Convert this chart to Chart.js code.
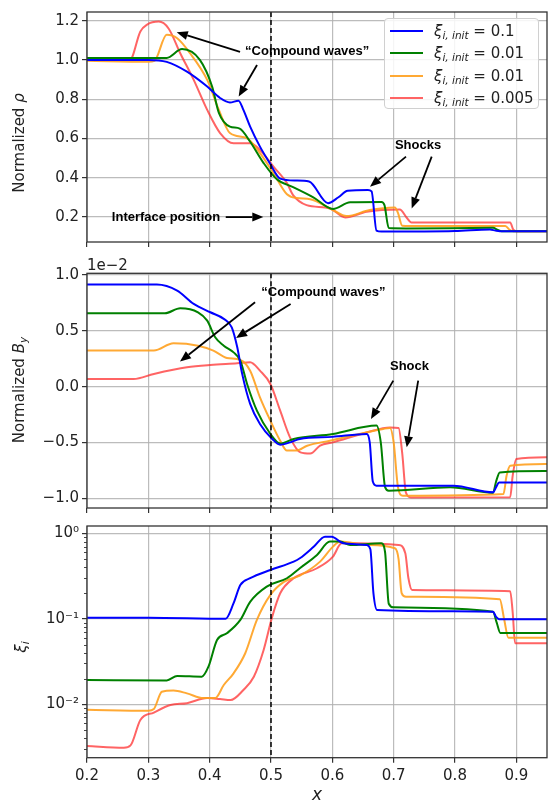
<!DOCTYPE html>
<html>
<head>
<meta charset="utf-8">
<script src="https://cdn.jsdelivr.net/npm/chart.js@4.4.1/dist/chart.umd.min.js"></script>
<style>
  body { margin: 0; background: #fff; width: 548px; height: 802px; overflow: hidden; position: relative; font-family: "DejaVu Sans", sans-serif; color: #222; }
  canvas { position: absolute; left: 0; top: 0; }
  .ytitle { position: absolute; transform: translate(-50%, -50%) rotate(-90deg); white-space: nowrap; font-size: 15px; }
  .ytitle sub, .legend sub { font-size: 10.5px; vertical-align: -3px; font-style: italic; }
  .offset { position: absolute; left: 87px; top: 256px; font-size: 15px; }
  .legend { position: absolute; left: 384px; top: 18px; width: 155px; height: 91px; box-sizing: border-box; border: 1px solid #d0d0d0; border-radius: 4px; background: rgba(255,255,255,0.85); z-index: 5; }
  .legend .row { position: absolute; left: 0; height: 22px; line-height: 22px; width: 100%; font-size: 15px; white-space: nowrap; }
  .legend .sw { position: absolute; left: 5px; top: 10px; width: 33px; height: 2px; }
  .legend .lab { position: absolute; left: 49px; top: 0; }
</style>
</head>
<body>
<canvas id="rhoChart" width="548" height="802"></canvas>
<canvas id="byChart" width="548" height="802"></canvas>
<canvas id="xiChart" width="548" height="802"></canvas>

<div class="ytitle" style="left:19px; top:143px;">Normalized <i>ρ</i></div>
<div class="ytitle" style="left:19px; top:390px;">Normalized <i>B</i><sub>y</sub></div>
<div class="ytitle" style="left:21px; top:647px;"><i>ξ</i><sub>i</sub></div>
<div class="offset">1e−2</div>
<div class="legend" id="legend"></div>

<script>
// ---- datos ----
const X_TICKS = [0.2, 0.3, 0.4, 0.5, 0.6, 0.7, 0.8, 0.9];
const RHO_TICKS = [0.2, 0.4, 0.6, 0.8, 1.0, 1.2];
const BY_TICKS = [-1.0, -0.5, 0.0, 0.5, 1.0];
const XI_TICKS = [0.01, 0.1, 1];

const SERIES_COLORS = ['#0000ff', '#008000', 'rgba(255,160,30,0.9)', 'rgba(255,40,40,0.72)'];
const XI_INIT = ['0.1', '0.01', '0.01', '0.005'];

// densidad normalizada
const rhoBlueX = [0.2, 0.3, 0.33, 0.363, 0.396, 0.417, 0.433, 0.447, 0.455, 0.466, 0.482, 0.498, 0.515, 0.54, 0.562, 0.593, 0.61, 0.625, 0.658, 0.664, 0.672, 0.68, 0.8, 0.857, 0.866, 0.873, 0.95];
const rhoBlueY = [1.0, 1.0, 0.99, 0.94, 0.864, 0.806, 0.783, 0.792, 0.745, 0.66, 0.558, 0.474, 0.395, 0.385, 0.38, 0.27, 0.3, 0.333, 0.337, 0.33, 0.13, 0.125, 0.128, 0.136, 0.13, 0.127, 0.127];
const rhoGreenX = [0.2, 0.33, 0.355, 0.384, 0.404, 0.415, 0.433, 0.449, 0.466, 0.488, 0.51, 0.536, 0.569, 0.601, 0.629, 0.68, 0.685, 0.692, 0.72, 0.862, 0.87, 0.876, 0.95];
const rhoGreenY = [1.01, 1.01, 1.055, 1.0, 0.864, 0.73, 0.66, 0.65, 0.583, 0.474, 0.39, 0.352, 0.30, 0.24, 0.274, 0.276, 0.26, 0.143, 0.141, 0.144, 0.133, 0.127, 0.127];
const rhoOrangeX = [0.2, 0.3, 0.31, 0.33, 0.347, 0.368, 0.396, 0.415, 0.433, 0.461, 0.482, 0.504, 0.526, 0.542, 0.564, 0.601, 0.623, 0.661, 0.702, 0.707, 0.714, 0.74, 0.882, 0.89, 0.895, 0.95];
const rhoOrangeY = [0.995, 0.99, 0.995, 1.128, 1.11, 1.034, 0.898, 0.745, 0.627, 0.60, 0.525, 0.423, 0.315, 0.296, 0.29, 0.235, 0.204, 0.235, 0.248, 0.22, 0.155, 0.153, 0.153, 0.132, 0.127, 0.127];
const rhoRedX = [0.2, 0.27, 0.287, 0.298, 0.317, 0.333, 0.352, 0.374, 0.396, 0.417, 0.439, 0.466, 0.482, 0.504, 0.526, 0.536, 0.558, 0.596, 0.621, 0.656, 0.71, 0.721, 0.729, 0.75, 0.89, 0.895, 0.9, 0.95];
const rhoRedY = [1.0, 1.0, 1.145, 1.18, 1.195, 1.16, 1.034, 0.898, 0.745, 0.627, 0.575, 0.575, 0.541, 0.456, 0.372, 0.311, 0.26, 0.243, 0.197, 0.226, 0.238, 0.197, 0.172, 0.172, 0.172, 0.135, 0.127, 0.127];

// B_y normalizado (x 1e-2)
const byBlueX = [0.2, 0.314, 0.347, 0.374, 0.401, 0.423, 0.436, 0.445, 0.453, 0.466, 0.482, 0.502, 0.515, 0.531, 0.547, 0.6, 0.656, 0.661, 0.666, 0.672, 0.797, 0.862, 0.867, 0.872, 0.95];
const byBlueY = [0.914, 0.914, 0.86, 0.741, 0.666, 0.607, 0.531, 0.352, 0.114, -0.155, -0.334, -0.469, -0.52, -0.499, -0.469, -0.45, -0.424, -0.5, -0.85, -0.887, -0.887, -0.947, -0.9, -0.858, -0.858];
const byGreenX = [0.2, 0.327, 0.352, 0.381, 0.396, 0.409, 0.423, 0.439, 0.45, 0.461, 0.477, 0.499, 0.515, 0.537, 0.601, 0.672, 0.679, 0.686, 0.692, 0.792, 0.862, 0.867, 0.873, 0.95];
const byGreenY = [0.657, 0.657, 0.702, 0.666, 0.591, 0.442, 0.367, 0.307, 0.233, 0.024, -0.215, -0.424, -0.51, -0.469, -0.424, -0.349, -0.5, -0.9, -0.932, -0.902, -0.95, -0.85, -0.768, -0.756];
const byOrangeX = [0.2, 0.309, 0.341, 0.381, 0.406, 0.428, 0.45, 0.466, 0.482, 0.499, 0.515, 0.526, 0.542, 0.559, 0.596, 0.683, 0.694, 0.7, 0.707, 0.715, 0.879, 0.884, 0.89, 0.95];
const byOrangeY = [0.323, 0.323, 0.388, 0.367, 0.323, 0.257, 0.239, 0.143, -0.096, -0.305, -0.484, -0.573, -0.573, -0.529, -0.484, -0.379, -0.37, -0.5, -0.9, -0.977, -0.962, -0.8, -0.708, -0.693];
const byRedX = [0.2, 0.276, 0.309, 0.363, 0.401, 0.445, 0.466, 0.482, 0.499, 0.515, 0.531, 0.548, 0.564, 0.58, 0.601, 0.656, 0.694, 0.708, 0.714, 0.72, 0.728, 0.89, 0.894, 0.9, 0.95];
const byRedY = [0.069, 0.069, 0.114, 0.173, 0.194, 0.209, 0.218, 0.143, 0.024, -0.215, -0.454, -0.589, -0.6, -0.529, -0.499, -0.41, -0.365, -0.37, -0.6, -0.95, -0.992, -0.99, -0.8, -0.648, -0.633];

// fraccion de ionizacion
const xiBlueX = [0.2, 0.3, 0.426, 0.439, 0.45, 0.466, 0.499, 0.537, 0.547, 0.57, 0.588, 0.599, 0.618, 0.656, 0.662, 0.667, 0.673, 0.862, 0.867, 0.872, 0.95];
const xiBlueY = [0.103, 0.103, 0.10, 0.152, 0.248, 0.298, 0.372, 0.466, 0.51, 0.7, 0.912, 0.912, 0.764, 0.73, 0.65, 0.2, 0.127, 0.121, 0.105, 0.099, 0.099];
const xiGreenX = [0.2, 0.33, 0.347, 0.387, 0.398, 0.412, 0.428, 0.45, 0.466, 0.493, 0.526, 0.547, 0.575, 0.596, 0.613, 0.629, 0.68, 0.686, 0.692, 0.7, 0.862, 0.868, 0.874, 0.95];
const xiGreenY = [0.0192, 0.019, 0.0214, 0.021, 0.0275, 0.0565, 0.0676, 0.097, 0.158, 0.238, 0.298, 0.39, 0.557, 0.80, 0.80, 0.73, 0.764, 0.6, 0.15, 0.136, 0.121, 0.09, 0.068, 0.068];
const xiOrangeX = [0.2, 0.3, 0.309, 0.322, 0.341, 0.363, 0.39, 0.409, 0.423, 0.439, 0.458, 0.477, 0.499, 0.521, 0.547, 0.58, 0.601, 0.613, 0.656, 0.702, 0.708, 0.713, 0.72, 0.873, 0.88, 0.887, 0.95];
const xiOrangeY = [0.0086, 0.0084, 0.0088, 0.014, 0.0145, 0.0134, 0.0118, 0.0118, 0.0168, 0.023, 0.0395, 0.097, 0.19, 0.27, 0.32, 0.466, 0.698, 0.8, 0.73, 0.668, 0.5, 0.2, 0.181, 0.169, 0.1, 0.06, 0.06];
const xiRedX = [0.2, 0.26, 0.271, 0.287, 0.309, 0.336, 0.363, 0.396, 0.417, 0.434, 0.455, 0.472, 0.488, 0.502, 0.515, 0.537, 0.575, 0.601, 0.615, 0.64, 0.708, 0.719, 0.724, 0.73, 0.89, 0.894, 0.898, 0.95];
const xiRedY = [0.00325, 0.0031, 0.0033, 0.00655, 0.008, 0.0098, 0.0103, 0.0118, 0.0115, 0.0112, 0.0147, 0.021, 0.0432, 0.106, 0.199, 0.298, 0.39, 0.533, 0.764, 0.764, 0.73, 0.583, 0.3, 0.217, 0.21, 0.12, 0.0517, 0.0517];

const INTERFACE_X = 0.5;

// ---- estilo ----
const GRID = 'rgba(176,176,176,0.85)';
const SPINE = '#333';
const TICK_FONT = { family: '"DejaVu Sans"', size: 15 };
const TICK_COLOR = '#222';
const SUP = { '0': '⁰', '1': '¹', '2': '²', '-': '⁻' };

// anotaciones (coordenadas de datos)
const rhoNotes = [
  { text: '“Compound waves”', x: 0.559, y: 1.041 },
  { text: 'Interface position', x: 0.3288, y: 0.199 },
  { text: 'Shocks', x: 0.7397, y: 0.563 }
];
const rhoArrows = [
  [0.4495, 1.041, 0.3463, 1.141],
  [0.4772, 0.974, 0.4473, 0.813],
  [0.4262, 0.199, 0.4875, 0.199],
  [0.7201, 0.507, 0.6614, 0.354],
  [0.762, 0.507, 0.7294, 0.243]
];
const byNotes = [
  { text: '“Compound waves”', x: 0.5855, y: 0.845 },
  { text: 'Shock', x: 0.7258, y: 0.182 }
];
const byArrows = [
  [0.474, 0.755, 0.3516, 0.224],
  [0.532, 0.741, 0.443, 0.436],
  [0.6994, 0.054, 0.663, -0.289],
  [0.740, 0.054, 0.7213, -0.544]
];

const overlayPlugin = {
  id: 'overlay',
  afterDatasetsDraw(chart, args, opts) {
    const { ctx, chartArea: a, scales: { x, y } } = chart;
    ctx.save();
    // linea de la interfaz
    const xi = x.getPixelForValue(INTERFACE_X);
    ctx.strokeStyle = '#000';
    ctx.lineWidth = 1.5;
    ctx.setLineDash([5, 3]);
    ctx.beginPath();
    ctx.moveTo(xi, a.top);
    ctx.lineTo(xi, a.bottom);
    ctx.stroke();
    ctx.setLineDash([]);

    // marco
    ctx.strokeStyle = SPINE;
    ctx.lineWidth = 1.3;
    ctx.strokeRect(a.left, a.top, a.right - a.left, a.bottom - a.top);

    // ticks menores del eje log
    if (opts.minorTicks) {
      ctx.lineWidth = 0.9;
      for (let d = -3; d <= 0; d++) {
        for (let k = 2; k <= 9; k++) {
          const v = k * Math.pow(10, d);
          if (v < y.min || v > y.max) continue;
          const py = Math.round(y.getPixelForValue(v)) + 0.5;
          ctx.beginPath();
          ctx.moveTo(a.left - 3, py);
          ctx.lineTo(a.left, py);
          ctx.stroke();
        }
      }
    }

    // flechas
    ctx.strokeStyle = '#000';
    ctx.fillStyle = '#000';
    (opts.arrows || []).forEach(([x0, y0, x1, y1]) => {
      const px0 = x.getPixelForValue(x0), py0 = y.getPixelForValue(y0);
      const px1 = x.getPixelForValue(x1), py1 = y.getPixelForValue(y1);
      const ang = Math.atan2(py1 - py0, px1 - px0);
      const head = 11, half = 4.5;
      const bx = px1 - head * Math.cos(ang), by = py1 - head * Math.sin(ang);
      ctx.lineWidth = 1.8;
      ctx.beginPath();
      ctx.moveTo(px0, py0);
      ctx.lineTo(bx, by);
      ctx.stroke();
      ctx.beginPath();
      ctx.moveTo(px1, py1);
      ctx.lineTo(bx + half * Math.sin(ang), by - half * Math.cos(ang));
      ctx.lineTo(bx - half * Math.sin(ang), by + half * Math.cos(ang));
      ctx.closePath();
      ctx.fill();
    });

    // textos
    ctx.font = 'bold 13px "Liberation Sans", Arial, sans-serif';
    ctx.textAlign = 'center';
    ctx.textBaseline = 'middle';
    (opts.notes || []).forEach(n => {
      ctx.fillText(n.text, x.getPixelForValue(n.x), y.getPixelForValue(n.y));
    });
    ctx.restore();
  }
};

function toSeries(xs, ys, i) {
  return {
    label: 'ξ i,init = ' + XI_INIT[i],
    data: xs.map((v, k) => ({ x: v, y: ys[k] })),
    borderColor: SERIES_COLORS[i],
    borderWidth: 2,
    pointRadius: 0,
    fill: false,
    cubicInterpolationMode: 'monotone'
  };
}

function makePanel(id, cfg) {
  return new Chart(document.getElementById(id), {
    type: 'line',
    data: { datasets: cfg.series },
    plugins: [overlayPlugin],
    options: {
      responsive: false,
      animation: false,
      events: [],
      layout: { padding: { top: cfg.top, bottom: cfg.bottom, left: 0, right: 1 } },
      plugins: {
        legend: { display: false },
        tooltip: { enabled: false },
        overlay: { notes: cfg.notes, arrows: cfg.arrows, minorTicks: cfg.yType === 'logarithmic' }
      },
      scales: {
        x: {
          type: 'linear',
          min: 0.2,
          max: 0.95,
          afterBuildTicks: s => { s.ticks = X_TICKS.map(v => ({ value: v })); },
          afterFit: s => { s.height = cfg.xAxisH; s.paddingLeft = 0; s.paddingRight = 0; },
          ticks: { display: cfg.xLabels, font: TICK_FONT, color: TICK_COLOR, padding: 4, maxRotation: 0,
                   callback: v => v.toFixed(1) },
          grid: { color: GRID, lineWidth: 1.2, tickLength: 5, tickColor: SPINE, tickWidth: 1.2 },
          border: { display: false },
          title: cfg.xLabels
            ? { display: true, text: 'x', font: { family: '"DejaVu Sans"', size: 17, style: 'italic', lineHeight: 0.8 }, color: '#222', padding: { top: 0, bottom: 0 } }
            : { display: false }
        },
        y: {
          type: cfg.yType,
          min: cfg.yMin,
          max: cfg.yMax,
          afterBuildTicks: s => { s.ticks = cfg.yTicks.map(v => ({ value: v })); },
          afterFit: s => { s.width = 87; s.paddingTop = 0; s.paddingBottom = 0; },
          ticks: { font: TICK_FONT, color: TICK_COLOR, padding: 3, callback: cfg.yFormat },
          grid: { color: GRID, lineWidth: 1.2, tickLength: 5, tickColor: SPINE, tickWidth: 1.2 },
          border: { display: false }
        }
      }
    }
  });
}

makePanel('rhoChart', {
  series: [toSeries(rhoBlueX, rhoBlueY, 0), toSeries(rhoGreenX, rhoGreenY, 1), toSeries(rhoOrangeX, rhoOrangeY, 2), toSeries(rhoRedX, rhoRedY, 3)],
  top: 12, bottom: 550, xAxisH: 10, xLabels: false,
  yType: 'linear', yMin: 0.072, yMax: 1.244, yTicks: RHO_TICKS,
  yFormat: v => v.toFixed(1),
  notes: rhoNotes, arrows: rhoArrows
});

makePanel('byChart', {
  series: [toSeries(byBlueX, byBlueY, 0), toSeries(byGreenX, byGreenY, 1), toSeries(byOrangeX, byOrangeY, 2), toSeries(byRedX, byRedY, 3)],
  top: 273.3, bottom: 284, xAxisH: 10, xLabels: false,
  yType: 'linear', yMin: -1.087, yMax: 1.015, yTicks: BY_TICKS,
  yFormat: v => v.toFixed(1).replace('-', '−'),
  notes: byNotes, arrows: byArrows
});

makePanel('xiChart', {
  series: [toSeries(xiBlueX, xiBlueY, 0), toSeries(xiGreenX, xiGreenY, 1), toSeries(xiOrangeX, xiOrangeY, 2), toSeries(xiRedX, xiRedY, 3)],
  top: 526, bottom: 0, xAxisH: 44.3, xLabels: true,
  yType: 'logarithmic', yMin: 0.00237, yMax: 1.217, yTicks: XI_TICKS,
  yFormat: v => '10' + String(Math.round(Math.log10(v))).split('').map(c => SUP[c]).join(''),
  notes: [], arrows: []
});

// leyenda
const legend = document.getElementById('legend');
XI_INIT.forEach((val, i) => {
  const row = document.createElement('div');
  row.className = 'row';
  row.style.top = (1 + i * 22.3) + 'px';
  row.innerHTML = '<span class="sw" style="background:' + SERIES_COLORS[i] + '"></span>' +
    '<span class="lab"><i>ξ</i><sub>i, init</sub> = ' + val + '</span>';
  legend.appendChild(row);
});
</script>
</body>
</html>
